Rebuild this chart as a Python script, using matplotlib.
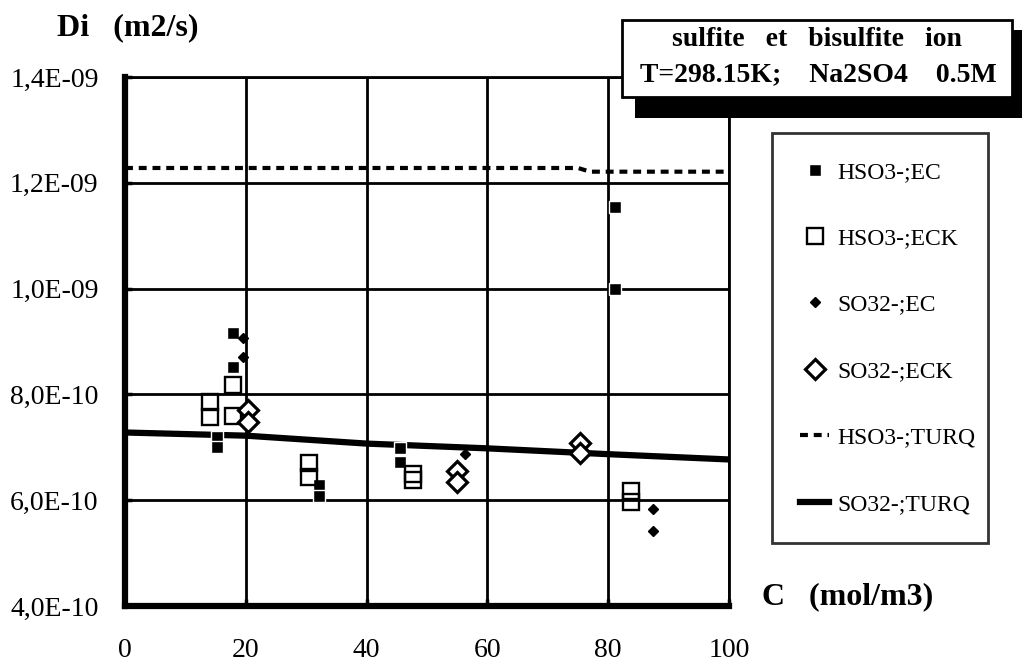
import matplotlib
matplotlib.use("Agg")
import matplotlib.pyplot as plt
from matplotlib.patches import Rectangle

plt.rcParams['font.family'] = ['Liberation Serif', 'DejaVu Serif']

# concentration C (mol/m3) and diffusivity Di (in 1E-10 m2/s)
hso3_ec_x = [17.9, 17.9, 15.3, 15.3, 32.1, 32.1, 45.5, 45.5, 81.1, 81.1]
hso3_ec_y = [9.17, 8.51, 7.20, 7.00, 6.28, 6.07, 6.98, 6.73, 11.55, 10.0]

hso3_eck_x = [14.0, 14.0, 17.9, 17.9, 30.4, 30.4, 47.7, 47.7, 83.7, 83.7]
hso3_eck_y = [7.85, 7.58, 8.17, 7.60, 6.71, 6.43, 6.50, 6.38, 6.17, 5.96]

so3_ec_x = [19.6, 19.6, 56.3, 87.4, 87.4]
so3_ec_y = [9.06, 8.70, 6.88, 5.83, 5.41]

so3_eck_x = [20.4, 20.4, 55.0, 55.0, 75.4, 75.4]
so3_eck_y = [7.70, 7.47, 6.55, 6.35, 7.09, 6.90]

hso3_turq_x = [0, 75, 77, 100]
hso3_turq_y = [12.28, 12.28, 12.21, 12.21]

so3_turq_x = [0, 20, 40, 60, 80, 100]
so3_turq_y = [7.28, 7.22, 7.07, 6.98, 6.87, 6.77]

x_ticks = [0, 20, 40, 60, 80, 100]
y_ticks = [4, 6, 8, 10, 12, 14]
y_tick_labels = ["4,0E-10", "6,0E-10", "8,0E-10", "1,0E-09", "1,2E-09", "1,4E-09"]

W, H = 1022, 665
fig = plt.figure(figsize=(W / 100, H / 100), dpi=100)
ax = fig.add_axes([125 / W, 1 - 606 / H, (729 - 125) / W, (606 - 77) / H])

ax.set_xlim(0, 100)
ax.set_ylim(4, 14)
ax.set_xticks(x_ticks)
ax.set_xticklabels([str(v) for v in x_ticks])
ax.set_yticks(y_ticks)
ax.set_yticklabels(y_tick_labels)
ax.tick_params(direction='in', length=5, width=2.5, labelsize=20, color='black')
ax.tick_params(axis='x', pad=23)
ax.tick_params(axis='y', pad=19)
ax.grid(True, color='black', linewidth=2)
ax.set_axisbelow(True)

for side in ['left', 'bottom']:
    ax.spines[side].set_linewidth(4.5)
for side in ['top', 'right']:
    ax.spines[side].set_linewidth(2)

l_hturq, = ax.plot(hso3_turq_x, hso3_turq_y, color='black', linewidth=3,
                   dashes=(1.9, 1.4), label='HSO3-;TURQ', zorder=3)
l_sturq, = ax.plot(so3_turq_x, so3_turq_y, color='black', linewidth=4.5,
                   label='SO32-;TURQ', zorder=3)

m1, = ax.plot(hso3_ec_x, hso3_ec_y, 's', color='black', markersize=8,
              markeredgecolor='white', markeredgewidth=1.0, label='HSO3-;EC', zorder=4)
m2, = ax.plot(hso3_eck_x, hso3_eck_y, 's', markerfacecolor='none', markeredgecolor='black',
              markersize=11.5, markeredgewidth=1.7, label='HSO3-;ECK', zorder=4)
m3, = ax.plot(so3_ec_x, so3_ec_y, 'D', color='black', markersize=5.5,
              label='SO32-;EC', zorder=4)
m4, = ax.plot(so3_eck_x, so3_eck_y, 'D', markerfacecolor='white', markeredgecolor='black',
              markersize=10, markeredgewidth=2.3, label='SO32-;ECK', zorder=5)

# axis titles
fig.text(57 / W, 1 - 28 / H, "Di   (m2/s)", fontsize=23, fontweight='bold',
         ha='left', va='center')
fig.text(762 / W, 1 - 597 / H, "C   (mol/m3)", fontsize=23, fontweight='bold',
         ha='left', va='center')

# title box with shadow
fig.patches.append(Rectangle((635 / W, 1 - 118 / H), (1022 - 635) / W, (118 - 30) / H,
                             transform=fig.transFigure, facecolor='black',
                             edgecolor='none', zorder=10))
fig.patches.append(Rectangle((622 / W, 1 - 97 / H), (1012 - 622) / W, (97 - 20) / H,
                             transform=fig.transFigure, facecolor='white',
                             edgecolor='black', linewidth=2, zorder=11))
fig.text(817 / W, 1 - 39 / H, "sulfite   et   bisulfite   ion", fontsize=20,
         fontweight='bold', ha='center', va='center', zorder=12)
fig.text(818 / W, 1 - 75 / H, "T=298.15K;    Na2SO4    0.5M", fontsize=20,
         fontweight='bold', ha='center', va='center', zorder=12)

leg = fig.legend(handles=[m1, m2, m3, m4, l_hturq, l_sturq],
                 loc='upper left', bbox_to_anchor=(772 / W, 1 - 133 / H, (988 - 772) / W, 0),
                 mode='expand', fontsize=17, frameon=True, fancybox=False,
                 labelspacing=1.9, borderpad=1.2, handlelength=1.2,
                 handletextpad=0.35, borderaxespad=0)
leg.get_frame().set_edgecolor('black')
leg.get_frame().set_linewidth(2)

fig.savefig("out.png", dpi=100)
